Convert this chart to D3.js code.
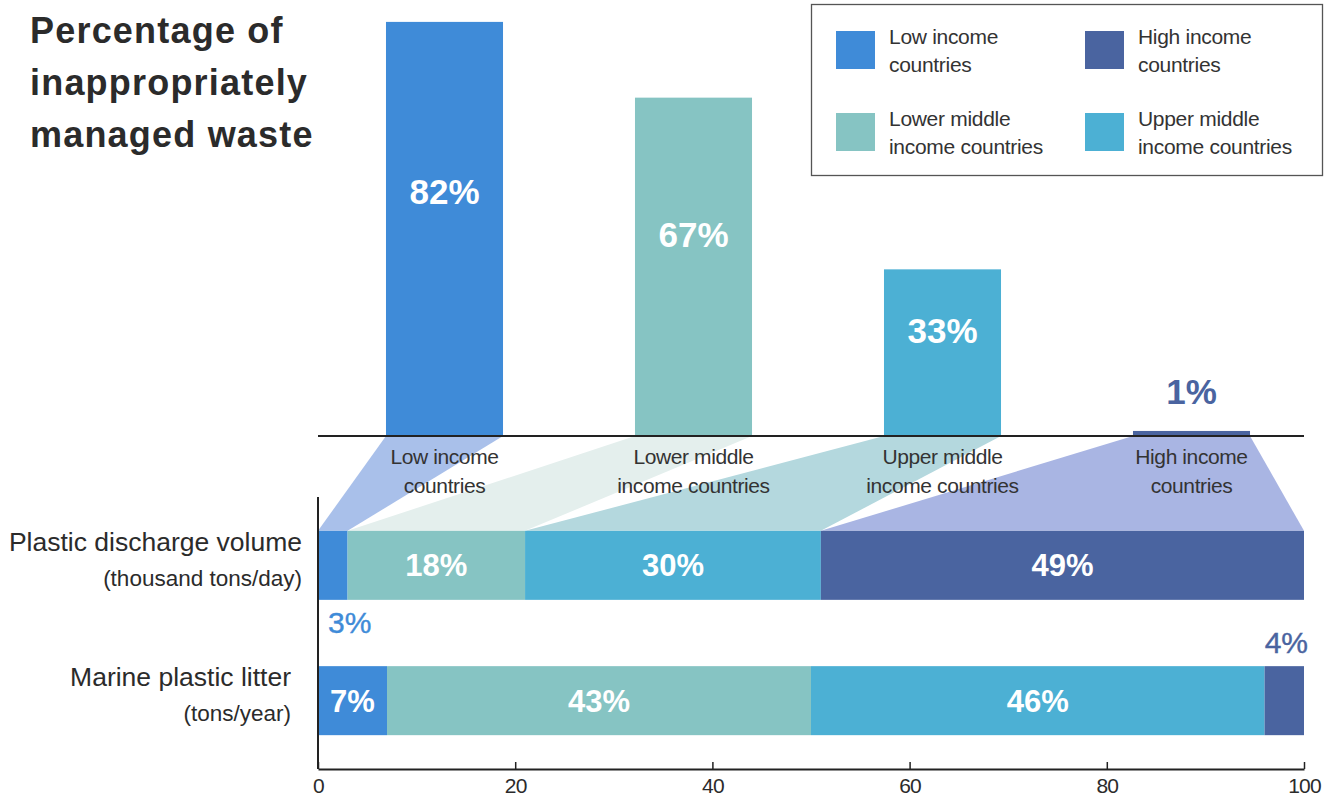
<!DOCTYPE html>
<html>
<head>
<meta charset="utf-8">
<script src="https://cdn.jsdelivr.net/npm/d3@7"></script>
<style>
    body { margin: 0; background: #fff; }
    text { font-family: "Liberation Sans", Arial, sans-serif; }
</style>
</head>
<body>
<div id="chart"></div>
<script>
// income groups, in the order used by the top bars and the stacked bars
const groups = ["Low income countries", "Lower middle income countries", "Upper middle income countries", "High income countries"]
const groupLines = [["Low income", "countries"], ["Lower middle", "income countries"], ["Upper middle", "income countries"], ["High income", "countries"]]
const groupColors = ["#3f8bd8", "#86c4c3", "#4cb0d4", "#4a64a0"]
const funnelColors = ["#a9c0ea", "#e4efed", "#b4d8de", "#a9b5e3"]

// percentage of inappropriately managed waste
const mismanaged = [82, 67, 33, 1]

// stacked shares (%)
const rows = ["Plastic discharge volume", "Marine plastic litter"]
const rowUnits = ["(thousand tons/day)", "(tons/year)"]
const dischargeShare = [3, 18, 30, 49]
const marineShare = [7, 43, 46, 4]
const xTicks = [0, 20, 40, 60, 80, 100]

const title = ["Percentage of", "inappropriately", "managed waste"]
const legendOrder = [0, 3, 1, 2]

drawChart()

function drawChart() {
    const width = 1342, height = 800
    const svg = d3.select("#chart").append("svg")
        .attr("width", width)
        .attr("height", height)

    // shared horizontal extent
    const left = 318, right = 1304
    const baseline = 436

    // top bar chart
    const xb = d3.scaleBand()
        .domain(groups)
        .range([320, 1316])
        .paddingInner(0.53)
        .paddingOuter(0.265)
    const yb = d3.scaleLinear().domain([0, 100]).range([baseline, -69])

    // bottom stacked chart
    const x = d3.scaleLinear().domain([0, 100]).range([left, right])
    const yr = d3.scaleBand()
        .domain(rows)
        .range([497, 769])
        .paddingInner(0.49)
        .paddingOuter(0.25)

    const stacks = [dischargeShare, marineShare].map(vals => {
        let acc = 0
        return vals.map((v, i) => {
            const seg = { group: i, value: v, x0: acc, x1: acc + v }
            acc += v
            return seg
        })
    })

    // funnels from the top bars to the discharge bar
    const fTop = yr(rows[0])
    svg.append("g").selectAll("path")
        .data(stacks[0])
        .join("path")
        .attr("d", d => {
            const g = groups[d.group]
            return d3.line()([
                [xb(g), baseline], [xb(g) + xb.bandwidth(), baseline],
                [x(d.x1), fTop], [x(d.x0), fTop]
            ]) + "Z"
        })
        .attr("fill", d => funnelColors[d.group])

    // title
    svg.append("text")
        .attr("x", 30)
        .attr("y", 43)
        .attr("font-size", 36)
        .attr("font-weight", "bold")
        .attr("letter-spacing", 1.2)
        .attr("fill", "#2b2b2b")
        .selectAll("tspan")
        .data(title)
        .join("tspan")
        .attr("x", 30)
        .attr("dy", (d, i) => i === 0 ? 0 : 52)
        .text(d => d)

    // legend
    const legend = svg.append("g")
    legend.append("rect")
        .attr("x", 811.5).attr("y", 4.5)
        .attr("width", 511).attr("height", 171)
        .attr("fill", "none")
        .attr("stroke", "#555")
        .attr("stroke-width", 1.3)
    const items = legend.selectAll("g.item")
        .data(legendOrder)
        .join("g")
        .attr("class", "item")
        .attr("transform", (d, i) => `translate(${836 + (i % 2) * 249},${31 + Math.floor(i / 2) * 82})`)
    items.append("rect")
        .attr("width", 39).attr("height", 38)
        .attr("fill", d => groupColors[d])
    items.append("text")
        .attr("font-size", 21)
        .attr("fill", "#333")
        .attr("letter-spacing", -0.3)
        .selectAll("tspan")
        .data(d => groupLines[d])
        .join("tspan")
        .attr("x", 53)
        .attr("y", (d, i) => 13 + i * 28)
        .text(d => d)

    // top bars
    svg.append("g").selectAll("rect")
        .data(mismanaged)
        .join("rect")
        .attr("x", (d, i) => xb(groups[i]))
        .attr("y", d => yb(d))
        .attr("width", xb.bandwidth())
        .attr("height", d => baseline - yb(d))
        .attr("fill", (d, i) => groupColors[i])

    svg.append("g").selectAll("text")
        .data(mismanaged)
        .join("text")
        .attr("x", (d, i) => xb(groups[i]) + xb.bandwidth() / 2)
        .attr("y", d => d > 5 ? yb(d) + (baseline - yb(d)) * 0.44 : yb(d) - 27)
        .attr("text-anchor", "middle")
        .attr("font-size", 35)
        .attr("font-weight", "bold")
        .attr("fill", (d, i) => d > 5 ? "#fff" : groupColors[i])
        .text(d => d + "%")

    // baseline of the top chart
    svg.append("line")
        .attr("x1", left).attr("x2", right)
        .attr("y1", baseline).attr("y2", baseline)
        .attr("stroke", "#222")
        .attr("stroke-width", 2)

    // category labels under the baseline
    svg.append("g").selectAll("text")
        .data(groups)
        .join("text")
        .attr("font-size", 21)
        .attr("fill", "#333")
        .attr("letter-spacing", -0.4)
        .attr("text-anchor", "middle")
        .selectAll("tspan")
        .data((d, i) => groupLines[i].map(t => ({ t, g: d })))
        .join("tspan")
        .attr("x", d => xb(d.g) + xb.bandwidth() / 2)
        .attr("y", (d, i) => 464 + i * 29)
        .text(d => d.t)

    // stacked bars
    const rowG = svg.append("g").selectAll("g")
        .data(stacks)
        .join("g")
        .attr("transform", (d, i) => `translate(0,${yr(rows[i])})`)
    rowG.selectAll("rect")
        .data(d => d)
        .join("rect")
        .attr("x", d => x(d.x0))
        .attr("width", d => x(d.x1) - x(d.x0))
        .attr("height", yr.bandwidth())
        .attr("fill", d => groupColors[d.group])

    rowG.each(function (segs, r) {
        d3.select(this).selectAll("text")
            .data(segs)
            .join("text")
            .attr("x", d => {
                if (d.value >= 5) return x((d.x0 + d.x1) / 2)
                return r === 0 ? x(d.x0) + 10 : x(d.x1) + 4
            })
            .attr("y", d => d.value >= 5 ? yr.bandwidth() / 2 + 11 : (r === 0 ? yr.bandwidth() + 33 : -13))
            .attr("text-anchor", d => d.value >= 5 ? "middle" : (r === 0 ? "start" : "end"))
            .attr("font-size", d => d.value >= 5 ? 31 : 30)
            .attr("font-weight", d => d.value >= 5 ? "bold" : "normal")
            .attr("fill", d => d.value >= 5 ? "#fff" : groupColors[d.group])
            .attr("stroke", d => d.value >= 5 ? "none" : groupColors[d.group])
            .attr("stroke-width", 0.4)
            .text(d => d.value + "%")
    })

    // row labels
    const rowLabel = svg.append("g").selectAll("g")
        .data(rows)
        .join("g")
        .attr("transform", (d, i) => `translate(${i === 0 ? 302 : 291},${yr(d)})`)
    rowLabel.append("text")
        .attr("y", 20)
        .attr("text-anchor", "end")
        .attr("font-size", 26.5)
        .attr("fill", "#2b2b2b")
        .text(d => d)
    rowLabel.append("text")
        .attr("y", 55)
        .attr("text-anchor", "end")
        .attr("font-size", 22.5)
        .attr("fill", "#2b2b2b")
        .text((d, i) => rowUnits[i])

    // axes
    svg.append("line")
        .attr("x1", left).attr("x2", left)
        .attr("y1", 497).attr("y2", 769)
        .attr("stroke", "#222")
        .attr("stroke-width", 2)

    const axis = svg.append("g")
        .attr("transform", "translate(0,769)")
        .call(d3.axisBottom(x).tickValues(xTicks).tickSize(-7).tickSizeOuter(0).tickPadding(9))
    axis.select(".domain").attr("stroke", "#222").attr("stroke-width", 2)
    axis.selectAll(".tick line").attr("stroke", "#222").attr("stroke-width", 1.5)
    axis.selectAll(".tick text")
        .attr("font-size", 21)
        .attr("font-family", "'Liberation Sans', Arial, sans-serif")
        .attr("letter-spacing", -0.8)
        .attr("fill", "#2b2b2b")
}
</script>
</body>
</html>
